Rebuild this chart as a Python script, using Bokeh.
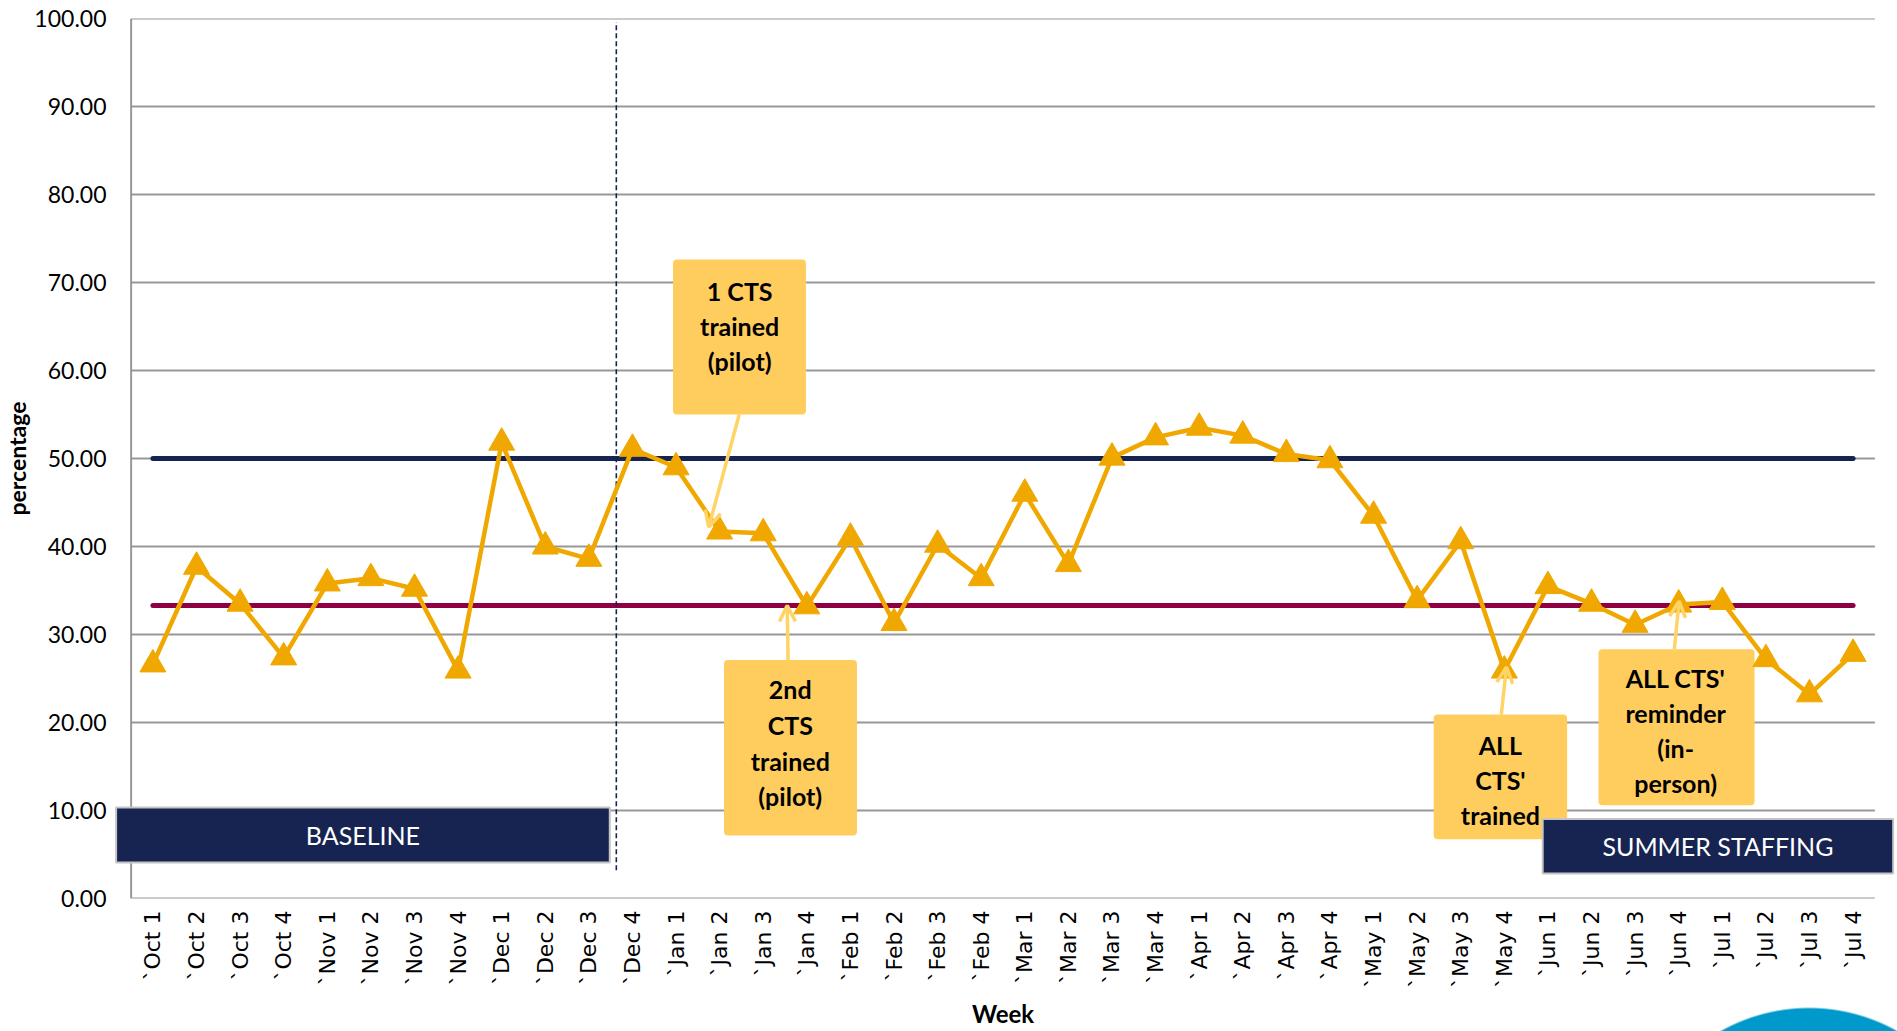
import math
from bokeh.plotting import figure
from bokeh.models import (FactorRange, Range1d, FixedTicker, PrintfTickFormatter,
                          BoxAnnotation, Label, Arrow, OpenHead)
from bokeh.core.properties import value
from bokeh.embed import file_html
from bokeh.resources import INLINE

# ---------------- data ----------------
weeks = ["`Oct 1", "`Oct 2", "`Oct 3", "`Oct 4",
         "`Nov 1", "`Nov 2", "`Nov 3", "`Nov 4",
         "`Dec 1", "`Dec 2", "`Dec 3", "`Dec 4",
         "`Jan 1", "`Jan 2", "`Jan 3", "`Jan 4",
         "`Feb 1", "`Feb 2", "`Feb 3", "`Feb 4",
         "`Mar 1", "`Mar 2", "`Mar 3", "`Mar 4",
         "`Apr 1", "`Apr 2", "`Apr 3", "`Apr 4",
         "`May 1", "`May 2", "`May 3", "`May 4",
         "`Jun 1", "`Jun 2", "`Jun 3", "`Jun 4",
         "`Jul 1", "`Jul 2", "`Jul 3", "`Jul 4"]

percentage = [26.6, 37.7, 33.5, 27.4,
              35.8, 36.4, 35.2, 25.9,
              51.8, 40.0, 38.6, 51.1,
              49.0, 41.7, 41.5, 33.2,
              41.0, 31.3, 40.2, 36.4,
              46.0, 38.0, 50.1, 52.4,
              53.5, 52.6, 50.5, 49.8,
              43.5, 33.9, 40.6, 25.9,
              35.5, 33.5, 31.1, 33.4,
              33.7, 27.2, 23.2, 27.8]

goal = 50.0
baseline_median = 33.3
y_ticks = [0, 10, 20, 30, 40, 50, 60, 70, 80, 90, 100]

note_texts = [["1 CTS", "trained", "(pilot)"],
              ["2nd", "CTS", "trained", "(pilot)"],
              ["ALL", "CTS'", "trained"],
              ["ALL CTS'", "reminder", "(in-", "person)"]]
phase_labels = ["BASELINE", "SUMMER STAFFING"]

# ---------------- styling / layout ----------------
ORANGE = "#F0A800"
NAVY = "#172452"
MAROON = "#8E0043"
NOTE_FILL = "#FFCC5E"
ARROW_COL = "#FFD466"
GRID = "#989898"

n = len(weeks)

p = figure(width=1897, height=1031,
           x_range=FactorRange(factors=weeks, range_padding=0.45, range_padding_units="absolute"),
           y_range=Range1d(0, 100),
           output_backend="svg", toolbar_location=None,
           min_border_left=111, min_border_right=3,
           min_border_top=18, min_border_bottom=133,
           outline_line_color=None, background_fill_color="white",
           border_fill_color=None)
# decorative blue disc peeking in at the lower right corner of the page
p.styles = {"background": "radial-gradient(circle 181px at 1809px 1188px, #0099CC 179px, #FFFFFF 181px)"}

# axes
p.yaxis.ticker = FixedTicker(ticks=y_ticks)
p.yaxis.formatter = PrintfTickFormatter(format="%.2f")
p.yaxis.major_tick_line_color = None
p.yaxis.minor_tick_line_color = None
p.yaxis.major_tick_out = 0
p.yaxis.minor_tick_out = 0
p.yaxis.major_label_standoff = 5
p.yaxis.major_label_text_font = "Lato"
p.yaxis.major_label_text_font_size = "23px"
p.yaxis.major_label_text_color = "black"
p.yaxis.axis_label = "percentage"
p.yaxis.axis_label_text_font = "Lato"
p.yaxis.axis_label_text_font_style = "bold"
p.yaxis.axis_label_text_font_size = "23px"
p.yaxis.axis_label_text_color = "black"
p.yaxis.axis_label_standoff = 0
p.yaxis.axis_line_color = None

p.xaxis.major_label_orientation = math.pi / 2
p.xaxis.major_tick_line_color = None
p.xaxis.minor_tick_line_color = None
p.xaxis.major_tick_out = 0
p.xaxis.minor_tick_out = 0
p.xaxis.major_label_standoff = 12
p.xaxis.major_label_text_font = "DejaVu Sans"
p.xaxis.major_label_text_font_size = "22px"
p.xaxis.major_label_text_color = "black"
p.xaxis.axis_label = "Week"
p.xaxis.axis_label_text_font = "Lato"
p.xaxis.axis_label_text_font_style = "bold"
p.xaxis.axis_label_text_font_size = "24px"
p.xaxis.axis_label_text_color = "black"
p.xaxis.axis_label_standoff = 8
p.xaxis.axis_line_color = None

p.xgrid.grid_line_color = None
p.ygrid.grid_line_color = None

# gridlines / axis lines limited to the category span
p.multi_line(xs=[[0, n] for _ in y_ticks], ys=[[t, t] for t in y_ticks],
             line_color=GRID, line_width=2)
p.segment(x0=[0], y0=[y_ticks[0]], x1=[0], y1=[y_ticks[-1]], line_color=GRID, line_width=2)

# reference lines
p.line(x=[weeks[0], weeks[-1]], y=[goal, goal], line_color=NAVY, line_width=5, line_cap="round")
p.line(x=[weeks[0], weeks[-1]], y=[baseline_median, baseline_median], line_color=MAROON,
       line_width=5, line_cap="round")

# phase break (between Dec 3 and Dec 4)
p.segment(x0=[11.13], y0=[3.2], x1=[11.13], y1=[99.6], line_color=NAVY, line_width=1.6,
          line_dash="5 3")

# note boxes (data units)
note_boxes = [(12.43, 15.48, 55.0, 72.6),
              (13.60, 16.65, 7.15, 27.1),
              (29.88, 32.94, 6.74, 20.9),
              (33.66, 37.24, 10.59, 28.33)]
note_centers = [13.96, 15.12, 31.41, 35.43]
note_line_y = [[69.0, 65.05, 61.06],
               [23.8, 19.67, 15.68, 11.69],
               [17.47, 13.48, 9.49],
               [25.03, 21.04, 17.05, 13.07]]
note_arrows = [(13.95, 55.0, 13.25, 42.2),
               (15.07, 27.1, 15.05, 33.3),
               (31.43, 20.9, 31.55, 26.3),
               (35.40, 28.33, 35.51, 33.8)]

p.quad(left=[b[0] for b in note_boxes], right=[b[1] for b in note_boxes],
       bottom=[b[2] for b in note_boxes], top=[b[3] for b in note_boxes],
       fill_color=NOTE_FILL, line_color=None, border_radius=4)

# main series
p.line(x=weeks, y=percentage, line_color=ORANGE, line_width=4.5, line_join="round")
p.scatter(x=weeks, y=percentage, marker="triangle", size=26, fill_color=ORANGE, line_color=ORANGE)

tx, ty, tt = [], [], []
for cx, ys, lines in zip(note_centers, note_line_y, note_texts):
    for yy, line in zip(ys, lines):
        tx.append(cx); ty.append(yy); tt.append(line)
p.text(x=tx, y=ty, text=tt, text_font=value("Lato"), text_font_style="bold",
       text_font_size="25px", text_align="center", text_baseline="middle", text_color="black")

for (x0, y0, x1, y1) in note_arrows:
    p.add_layout(Arrow(end=OpenHead(size=16, line_color=ARROW_COL, line_width=3.5),
                       x_start=x0, y_start=y0, x_end=x1, y_end=y1,
                       line_color=ARROW_COL, line_width=3.5))

# phase banners
banners = [(-0.344, 10.98, 4.09, 10.34), (32.38, 40.42, 2.84, 9.03)]
for (l, r, b, t), txt in zip(banners, phase_labels):
    p.add_layout(BoxAnnotation(left=l, right=r, bottom=b, top=t, fill_color=NAVY, fill_alpha=1,
                               line_color="#C4C4C4", line_alpha=1, line_width=2))
    p.add_layout(Label(x=(l + r) / 2, y=(b + t) / 2, text=txt, text_align="center",
                       text_baseline="middle", text_color="white", text_font="Lato",
                       text_font_size="25px"))

open("out.html", "w").write(file_html(p, INLINE))
